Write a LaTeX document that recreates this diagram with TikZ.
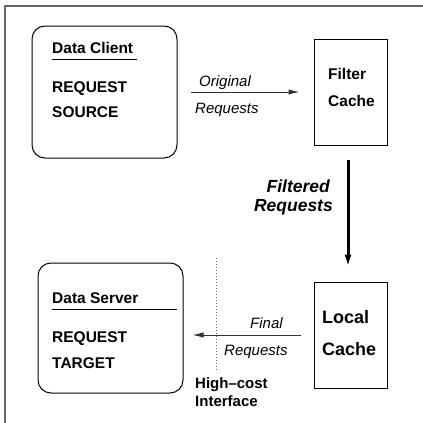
\documentclass[tikz,border=0pt]{standalone}
\usepackage{fontspec}
\setmainfont{Liberation Sans}
\usetikzlibrary{arrows.meta}

\tikzset{
    roundbox/.style={draw, line width=1pt, rounded corners=13pt, inner sep=0},
    sqbox/.style={draw, line width=1pt, inner sep=0},
    txt/.style={anchor=base west, inner sep=0, font=\fontsize{15.5}{18}\selectfont\bfseries},
    itxt/.style={anchor=base west, inner sep=0, font=\fontsize{15}{18}\selectfont\itshape},
    thinarrow/.style={-{Latex[length=11pt,width=5.5pt]}, line width=1pt, black!80},
    fatarrow/.style={-{Latex[length=13pt,width=7pt]}, line width=3pt}
}

\begin{document}
\begin{tikzpicture}[x=1pt, y=-1pt]
    \useasboundingbox (0,0) rectangle (423,423);
    % frame, cut off at the right and at the bottom
    \draw[black!60, line width=1.2pt] (5,430) -- (5,6) -- (430,6);

    % the four boxes
    \node[roundbox, minimum width=145pt, minimum height=132pt] (client) at (104.5,92) {};
    \node[roundbox, minimum width=145pt, minimum height=130pt] (server) at (110.5,328) {};
    \node[sqbox, minimum width=73pt, minimum height=106pt] (filter) at (350.5,92) {};
    \node[sqbox, minimum width=73pt, minimum height=106pt] (local) at (350.5,335) {};

    % texts in the boxes
    \node[txt] (clientname) at (52,53) {Data Client};
    \draw[line width=0.8pt] (52,59) -- (137,59);
    \node[txt] (clientreq) at (52,92) {REQUEST};
    \node[txt] (clientsrc) at (52,117) {SOURCE};

    \node[txt] (servername) at (52,303) {Data Server};
    \draw[line width=0.8pt] (52,309) -- (177,309);
    \node[txt] (serverreq) at (52,342) {REQUEST};
    \node[txt] (servertgt) at (52,368) {TARGET};

    \node[txt] (filtera) at (328,79) {Filter};
    \node[txt] (filterb) at (328,106) {Cache};

    \node[txt, font=\fontsize{18}{20}\selectfont\bfseries] (locala) at (322,323) {Local};
    \node[txt, font=\fontsize{18}{20}\selectfont\bfseries] (localb) at (322,355) {Cache};

    % connectors
    \draw[thinarrow, shorten <=13pt, shorten >=14pt] (client) -- (filter);
    \node[itxt] (origa) at (199,86) {Original};
    \node[itxt] (origb) at (195,113) {Requests};

    \draw[fatarrow, shorten <=14pt, shorten >=14pt]
        ([xshift=-2.5pt]filter.south) -- ([xshift=-2.5pt]local.north);
    \node[txt, anchor=base east, font=\fontsize{17.5}{20}\selectfont\bfseries\itshape]
        (filta) at (330,192) {Filtered};
    \node[txt, anchor=base east, font=\fontsize{17.5}{20}\selectfont\bfseries\itshape]
        (filtb) at (333,211) {Requests};

    \draw[thinarrow, shorten <=13pt, shorten >=9pt] (local.west) -- (local.west -| server.east);
    \node[itxt] (finala) at (250,328) {Final};
    \node[itxt] (finalb) at (224,355) {Requests};

    % high-cost boundary
    \coordinate (cuttop) at (216,258);
    \coordinate (cutbot) at (216,371);
    \draw[black!60, dotted, line width=1pt] (cuttop) -- (cutbot);
    \node[txt, font=\fontsize{15}{18}\selectfont\bfseries] (costa) at (195,388) {High–cost};
    \node[txt, font=\fontsize{15}{18}\selectfont\bfseries] (costb) at (195,406) {Interface};
\end{tikzpicture}
\end{document}
